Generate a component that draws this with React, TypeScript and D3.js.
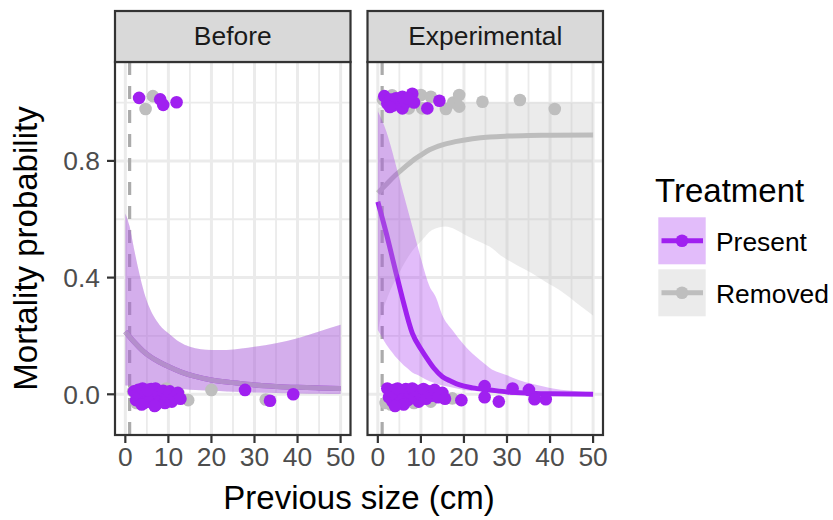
import React from "react";
import * as d3 from "d3";

// ---------- data ----------
const panels = ["Before", "Experimental"];
const treatments = ["Present", "Removed"];
const xTicks = [0, 10, 20, 30, 40, 50];
const xMinor = [5, 15, 25, 35, 45];
const yTicks = [0, 0.4, 0.8];
const yMinor = [0.2, 0.6, 1.0];
const vline = 1;

// fitted curves [x, p]
const beforeFit = [[0,0.215],[2,0.18],[4,0.15],[6,0.127],[8,0.11],[10,0.095],[13,0.076],[16,0.062],[20,0.049],[25,0.04],[30,0.032],[35,0.027],[40,0.024],[45,0.022],[50,0.02]];
const beforeUpper = [[0,0.62],[1,0.575],[2,0.5],[3,0.43],[3.8,0.38],[5,0.32],[6.5,0.27],[8,0.237],[10,0.209],[12.5,0.18],[15,0.163],[20,0.152],[23.5,0.152],[27,0.157],[30,0.163],[35,0.175],[40,0.192],[45,0.215],[50,0.238]];
const beforeLower = [[0,0.03],[5,0.026],[10,0.02],[15,0.016],[20,0.012],[30,0.006],[40,0.003],[50,0.001]];

const expPresentFit = [[0,0.66],[2,0.55],[4,0.43],[5.7,0.33],[8,0.21],[10,0.155],[11.1,0.13],[13,0.09],[15,0.06],[17,0.045],[19,0.032],[22,0.022],[26,0.015],[30,0.008],[35,0.004],[40,0.002],[50,0.0]];
const expPresentUpper = [[0,0.97],[2,0.9],[3.4,0.83],[5,0.74],[7,0.63],[9,0.52],[10.3,0.45],[12,0.37],[13.4,0.335],[15,0.27],[17.3,0.22],[20,0.17],[22.7,0.13],[26,0.09],[30,0.065],[32.7,0.049],[36,0.035],[40,0.022],[45,0.012],[50,0.006]];
const expPresentLower = [[0,0.22],[2,0.17],[4,0.13],[6,0.1],[8,0.075],[10,0.06],[12,0.045],[15,0.03],[20,0.015],[25,0.008],[30,0.004],[40,0.001],[50,0.0]];

const expRemovedFit = [[0,0.69],[2,0.72],[4,0.75],[6,0.775],[8,0.8],[10,0.82],[12,0.838],[15,0.855],[18,0.866],[22,0.876],[26,0.882],[30,0.885],[35,0.887],[40,0.888],[50,0.889]];
const expRemovedUpper = [[0,0.98],[2,0.995],[5,1.0],[10,1.0],[20,1.0],[30,1.0],[40,1.0],[50,1.0]];
const expRemovedLower = [[0,0.22],[1.4,0.3],[3,0.36],[5.7,0.437],[8.8,0.506],[12.6,0.563],[15.7,0.575],[18,0.565],[21.1,0.54],[24,0.52],[26.6,0.5],[28.9,0.472],[32,0.445],[35.8,0.415],[39,0.385],[42.1,0.358],[46,0.315],[50,0.27]];

// observed (jittered) points [x, y]
const beforePresentPts = [[3.2,1.016],[8.1,1.011],[8.8,0.992],[11.9,1.001],
  [2.0,0.01],[2.5,-0.02],[3.0,0.015],[3.5,-0.005],[4.0,0.02],[4.3,-0.03],[5.0,0.005],[5.5,-0.025],[6.0,0.018],[6.3,-0.01],[7.0,0.02],[7.2,-0.035],[7.8,0.0],[8.3,-0.02],[8.8,0.012],[9.2,-0.03],[9.8,-0.008],[10.3,0.01],[10.8,-0.025],[11.5,-0.01],[12.2,0.005],[12.8,-0.015],[27.8,0.015],[33.6,-0.022],[39.0,0.0],[3.8,-0.035],[6.8,-0.04],[5.2,0.015]];
const beforeRemovedPts = [[6.4,1.022],[4.7,0.978],
  [2.6,-0.03],[12.3,0.005],[14.6,-0.02],[20.0,0.015],[32.6,-0.018],[1.8,0.01],[9.5,0.02]];
const expPresentPts = [[1.5,1.022],[2.2,0.997],[3.0,1.01],[3.5,0.99],[4.2,1.015],[5.0,1.005],[5.7,1.02],[5.7,0.98],[6.5,1.0],[8.0,1.03],[8.4,1.0],[11.5,0.98],[14.3,1.006],[7.0,1.015],[2.8,0.985],
  [2.2,0.02],[2.6,-0.01],[3.0,0.01],[3.4,-0.025],[3.8,0.015],[4.2,-0.005],[4.6,0.02],[5.0,-0.03],[5.5,0.01],[6.0,-0.015],[6.5,0.018],[7.0,-0.02],[7.5,0.005],[8.0,0.02],[8.5,-0.01],[9.0,0.012],[9.5,-0.025],[10.0,0.0],[10.6,0.018],[11.2,-0.015],[11.8,0.01],[12.5,-0.005],[13.2,0.015],[14.0,-0.01],[15.0,0.005],[15.6,-0.015],[19.4,-0.02],[24.8,0.028],[24.8,-0.01],[28.1,-0.025],[31.3,0.02],[35.1,0.015],[36.4,-0.017],[39.0,-0.017],[6.0,-0.035],[4.0,-0.04]];
const expRemovedPts = [[1.2,1.01],[3.3,1.025],[7.2,0.98],[9.0,1.02],[10.0,1.026],[10.3,0.98],[12.3,1.02],[15.8,0.978],[17.5,1.0],[18.9,1.026],[18.9,0.986],[24.3,1.003],[33.0,1.009],[41.1,0.978],[6.2,0.99],
  [1.8,-0.03],[8.4,-0.03],[12.3,-0.025],[17.3,-0.014],[3.0,-0.035]];

// ---------- styling ----------
const PURPLE = "#a020f0";
const GREY = "#bebebe";
const FONT = "'Liberation Sans', Arial, Helvetica, sans-serif";
const W = 833, H = 520;
const panelX = [[115, 350.5], [367.5, 603]];
const panelTop = 62, panelBottom = 435, stripTop = 11;

type Pt = number[];

function zip(up: Pt[], lo: Pt[]) {
  // build area table on union of x's using linear lookup of each bound
  const xs = Array.from(new Set([...up.map(d => d[0]), ...lo.map(d => d[0])])).sort((a, b) => a - b);
  const fu = d3.scaleLinear().domain(up.map(d => d[0])).range(up.map(d => d[1]));
  const fl = d3.scaleLinear().domain(lo.map(d => d[0])).range(lo.map(d => d[1]));
  return xs.map(x => ({ x, hi: fu(x), lo: fl(x) }));
}

export default function App() {
  const y = d3.scaleLinear().domain([-0.1395, 1.139]).range([panelBottom, panelTop]);
  const panelsData = [
    {
      name: panels[0],
      fits: [
        { t: treatments[0], fit: beforeFit, up: beforeUpper, lo: beforeLower },
        { t: treatments[1], fit: beforeFit, up: beforeUpper, lo: beforeLower },
      ],
      pts: { Present: beforePresentPts, Removed: beforeRemovedPts },
    },
    {
      name: panels[1],
      fits: [
        { t: treatments[0], fit: expPresentFit, up: expPresentUpper, lo: expPresentLower },
        { t: treatments[1], fit: expRemovedFit, up: expRemovedUpper, lo: expRemovedLower },
      ],
      pts: { Present: expPresentPts, Removed: expRemovedPts },
    },
  ];
  const col = (t: string) => (t === "Present" ? PURPLE : GREY);

  return (
    <svg width={W} height={H} style={{ position: "absolute", left: 0, top: 0, background: "#fff" }} fontFamily={FONT}>
      <rect x={0} y={0} width={W} height={H} fill="#fff" />
      {panelsData.map((p, i) => {
        const [x0, x1] = panelX[i];
        const x = d3.scaleLinear().domain([-2.4, 52.3]).range([x0, x1]);
        const line = d3.line<Pt>().x(d => x(d[0])).y(d => y(d[1])).curve(d3.curveMonotoneX);
        const area = d3.area<{ x: number; hi: number; lo: number }>()
          .x(d => x(d.x)).y0(d => y(d.lo)).y1(d => y(d.hi)).curve(d3.curveMonotoneX);
        const clipId = `clip${i}`;
        return (
          <g key={p.name}>
            <defs>
              <clipPath id={clipId}>
                <rect x={x0} y={panelTop} width={x1 - x0} height={panelBottom - panelTop} />
              </clipPath>
            </defs>
            {/* grid */}
            {yMinor.map(v => (
              <line key={"ym" + v} x1={x0} x2={x1} y1={y(v)} y2={y(v)} stroke="#ebebeb" strokeWidth={1.8} />
            ))}
            {xMinor.map(v => (
              <line key={"xm" + v} x1={x(v)} x2={x(v)} y1={panelTop} y2={panelBottom} stroke="#ebebeb" strokeWidth={1.8} />
            ))}
            {yTicks.map(v => (
              <line key={"yM" + v} x1={x0} x2={x1} y1={y(v)} y2={y(v)} stroke="#ebebeb" strokeWidth={3} />
            ))}
            {xTicks.map(v => (
              <line key={"xM" + v} x1={x(v)} x2={x(v)} y1={panelTop} y2={panelBottom} stroke="#ebebeb" strokeWidth={3} />
            ))}
            <g clipPath={`url(#${clipId})`}>
              {/* vertical reference */}
              <line x1={x(vline)} x2={x(vline)} y1={panelTop} y2={panelBottom} stroke="#ababab" strokeWidth={3.2} strokeDasharray="13,11" />
              {/* fitted lines */}
              {p.fits.map(f => (
                <path key={"l" + f.t} d={line(f.fit) || ""} fill="none" stroke={col(f.t)} strokeWidth={5} />
              ))}
              {/* ribbons */}
              {[...p.fits].reverse().map(f => (
                <path key={"r" + f.t} d={area(zip(f.up, f.lo)) || ""} fill={col(f.t)} fillOpacity={0.3} />
              ))}
              {/* points */}
              {p.pts.Removed.map((d, k) => (
                <circle key={"pr" + k} cx={x(d[0])} cy={y(d[1])} r={6.3} fill={GREY} />
              ))}
              {p.pts.Present.map((d, k) => (
                <circle key={"pp" + k} cx={x(d[0])} cy={y(d[1])} r={6.3} fill={PURPLE} />
              ))}
            </g>
            {/* border */}
            <rect x={x0} y={panelTop} width={x1 - x0} height={panelBottom - panelTop} fill="none" stroke="#333333" strokeWidth={2.2} />
            {/* strip */}
            <rect x={x0} y={stripTop} width={x1 - x0} height={panelTop - stripTop} fill="#d9d9d9" stroke="#333333" strokeWidth={2.2} />
            <text x={(x0 + x1) / 2} y={45} textAnchor="middle" fontSize={26.4} fill="#1a1a1a">{p.name}</text>
            {/* x axis */}
            {xTicks.map(v => (
              <g key={"xt" + v}>
                <line x1={x(v)} x2={x(v)} y1={panelBottom} y2={panelBottom + 8} stroke="#333333" strokeWidth={2.2} />
                <text x={x(v)} y={466} textAnchor="middle" fontSize={26.4} fill="#4d4d4d">{v}</text>
              </g>
            ))}
            {i === 0 && yTicks.map(v => (
              <g key={"yt" + v}>
                <line x1={x0 - 8} x2={x0} y1={y(v)} y2={y(v)} stroke="#333333" strokeWidth={2.2} />
                <text x={x0 - 15} y={y(v)} dy="0.35em" textAnchor="end" fontSize={26.4} fill="#4d4d4d">{v.toFixed(1)}</text>
              </g>
            ))}
          </g>
        );
      })}
      {/* axis titles */}
      <text x={(panelX[0][0] + panelX[1][1]) / 2} y={508.5} textAnchor="middle" fontSize={33} fill="#000">Previous size (cm)</text>
      <text transform={`translate(37,${(panelTop + panelBottom) / 2}) rotate(-90)`} textAnchor="middle" fontSize={33} fill="#000">Mortality probability</text>
      {/* legend */}
      <text x={655} y={201.5} fontSize={33} fill="#000">Treatment</text>
      {treatments.map((t, k) => {
        const ky = 217.3 + k * 52;
        return (
          <g key={"lg" + t}>
            <rect x={658.3} y={ky} width={47.4} height={47} fill="#ffffff" />
            <rect x={658.3} y={ky} width={47.4} height={47} fill={col(t)} fillOpacity={0.3} />
            <line x1={661.5} x2={703} y1={ky + 23.5} y2={ky + 23.5} stroke={col(t)} strokeWidth={5} />
            <circle cx={682} cy={ky + 23.5} r={6.3} fill={col(t)} />
            <text x={716} y={ky + 33.5} fontSize={26.4} fill="#000">{t}</text>
          </g>
        );
      })}
    </svg>
  );
}
